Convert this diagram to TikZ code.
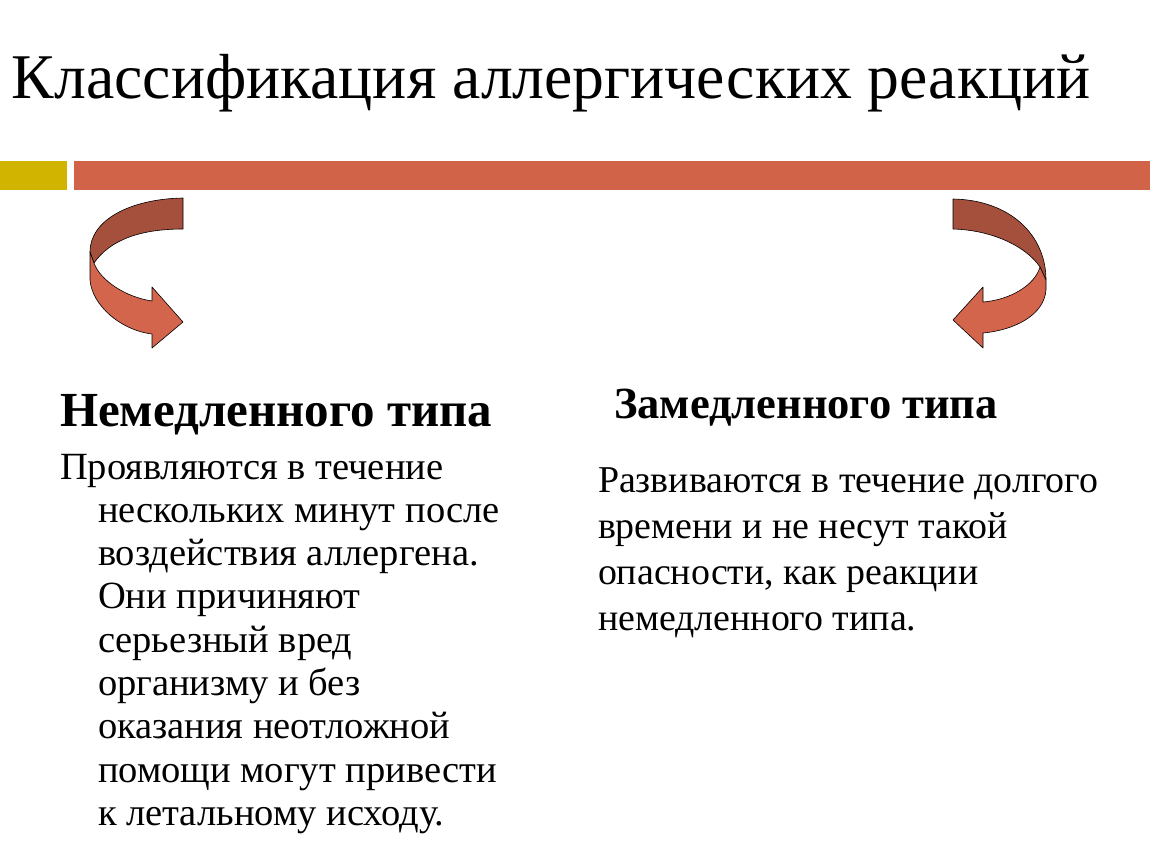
\documentclass[tikz,border=0pt]{standalone}
\usepackage{fontspec}
\setmainfont{Liberation Serif}
\definecolor{barred}{RGB}{209,99,73}
\definecolor{baryellow}{RGB}{208,180,0}
\definecolor{arrdark}{RGB}{164,80,60}
\definecolor{arrlight}{RGB}{210,101,76}
\tikzset{
  txt/.style={inner sep=0pt, outer sep=0pt, anchor=base west, text=black},
  band/.style={draw=black, line width=0.6pt, line join=round},
}
\begin{document}
\begin{tikzpicture}[x=1pt,y=-1pt]
\useasboundingbox[fill=white] (0,0) rectangle (1150,864);
% bars
\fill[baryellow] (0,161) rectangle (67,190);
\fill[barred] (74,161) rectangle (1150,190);
% title
\node[txt] (title) at (12,99) {\fontsize{63.7}{72}\selectfont Классификация аллергических реакций};
% left arrow
\path[band, fill=arrdark] (183,198) .. controls (130,199) and (90,220) .. (90,252)
  -- (94,263) .. controls (110,240) and (140,229) .. (183,229) -- cycle;
\path[band, fill=arrlight] (90,252) -- (90,280) .. controls (92,305) and (120,330) .. (152,334)
  -- (152,348) -- (183,322) -- (152,287) -- (152,301)
  .. controls (125,297) and (100,280) .. (94,263) -- cycle;
% right arrow
\path[band, fill=arrdark] (953,199) .. controls (1010,200) and (1046,235) .. (1046,280)
  -- (1040,267) .. controls (1025,245) and (990,230) .. (953,229) -- cycle;
\path[band, fill=arrlight] (1046,280) -- (1046,290) .. controls (1044,315) and (1015,330) .. (983,333)
  -- (983,348) -- (953,320) -- (983,287) -- (983,302)
  .. controls (1010,300) and (1035,285) .. (1040,267) -- cycle;
% headers
\node[txt] (h1) at (60,426) {\fontsize{49}{58}\bfseries\selectfont Немедленного типа};
\node[txt] (h2) at (614,418) {\fontsize{44.5}{53}\bfseries\selectfont Замедленного типа};
% bodies
\node[txt] (b1) at (60,825.4) {\fontsize{38.5}{43.3}\selectfont
\begin{tabular}[b]{@{}l@{}}
Проявляются в течение\\
\hspace*{38pt}нескольких минут после\\
\hspace*{38pt}воздействия аллергена.\\
\hspace*{38pt}Они причиняют\\
\hspace*{38pt}серьезный вред\\
\hspace*{38pt}организму и без\\
\hspace*{38pt}оказания неотложной\\
\hspace*{38pt}помощи могут привести\\
\hspace*{38pt}к летальному исходу.
\end{tabular}};
\node[txt] (b2) at (598,630) {\fontsize{37.9}{45.7}\selectfont
\begin{tabular}[b]{@{}l@{}}
Развиваются в течение долгого\\
времени и не несут такой\\
опасности, как реакции\\
немедленного типа.
\end{tabular}};
\end{tikzpicture}
\end{document}
